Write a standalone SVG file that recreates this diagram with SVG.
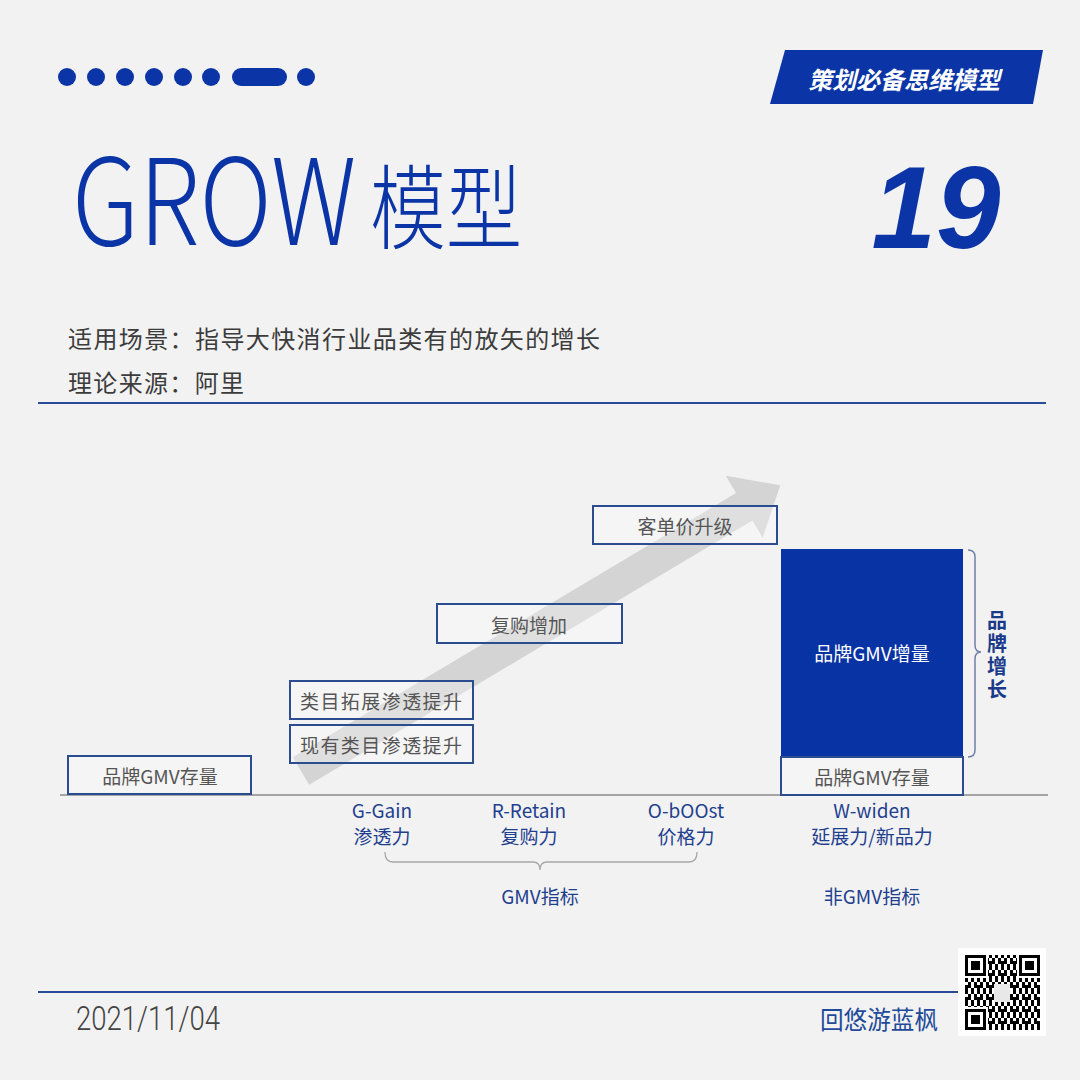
<svg xmlns="http://www.w3.org/2000/svg" width="1080" height="1080" viewBox="0 0 1080 1080">
<defs>
<style>
.cjk{font-family:"Noto Sans CJK SC","Noto Sans",sans-serif;}
.box{fill:#ffffff;fill-opacity:0.25;stroke:#2c4c90;stroke-width:2;}
.bt{font-family:"Noto Sans CJK SC","Noto Sans",sans-serif;font-size:19px;fill:#555;text-anchor:middle;dominant-baseline:central;}
.lab{font-family:"Noto Sans CJK SC","Noto Sans",sans-serif;font-size:19px;fill:#1f3f8f;text-anchor:middle;dominant-baseline:central;}
.blue{fill:#0b35a6;}
</style>
<pattern id="qr" patternUnits="userSpaceOnUse" x="965" y="955" width="12" height="12">
<rect x="0" y="0" width="3" height="3"/><rect x="6" y="0" width="3" height="3"/><rect x="3" y="3" width="3" height="3"/><rect x="9" y="3" width="3" height="6"/><rect x="0" y="6" width="6" height="3"/><rect x="6" y="9" width="3" height="3"/><rect x="0" y="9" width="3" height="3"/>
</pattern>
<g id="finder"><rect x="-2" y="-2" width="25" height="25" fill="#fff"/><rect width="21" height="21" fill="#000"/><rect x="3" y="3" width="15" height="15" fill="#fff"/><rect x="6" y="6" width="9" height="9" fill="#000"/></g>
</defs>
<rect width="1080" height="1080" fill="#f2f2f2"/>

<g id="header">
<g class="blue">
<circle cx="67" cy="77" r="9"/><circle cx="96" cy="77" r="9"/><circle cx="125" cy="77" r="9"/><circle cx="154" cy="77" r="9"/><circle cx="183" cy="77" r="9"/><circle cx="211" cy="77" r="9"/>
<rect x="232" y="68" width="55" height="18" rx="9"/>
<circle cx="306" cy="77" r="9"/>
</g>
<text class="cjk blue" font-size="120" font-weight="300" transform="translate(72,245) scale(0.83,1)">GROW</text>
<text class="cjk blue" x="370" y="242" font-size="92" font-weight="300" textLength="152" lengthAdjust="spacingAndGlyphs">模型</text>
<polygon class="blue" points="785,50 1043,50 1033,104 770,104"/>
<text class="cjk" x="904" y="78" font-size="24" font-weight="bold" font-style="italic" fill="#fff" text-anchor="middle" dominant-baseline="central">策划必备思维模型</text>
<text class="blue" x="936" y="248" font-family="Liberation Sans, Arial, sans-serif" font-size="116" font-weight="bold" font-style="italic" text-anchor="middle">19</text>
<text class="cjk" x="68" y="337" font-size="24" fill="#3c3c3c" dominant-baseline="central" textLength="532" lengthAdjust="spacing">适用场景：指导大快消行业品类有的放矢的增长</text>
<text class="cjk" x="68" y="381" font-size="24" fill="#3c3c3c" dominant-baseline="central" textLength="176" lengthAdjust="spacing">理论来源：阿里</text>
<line x1="38" y1="403" x2="1046" y2="403" stroke="#2a4a9a" stroke-width="2"/>
</g>

<g id="connectors">
<path d="M0,-16 L516,-16 L516,-36 L558,0 L516,36 L516,16 L0,16 Z" fill="#d4d4d4" transform="translate(301,771) rotate(-30.8)"/>
<line x1="60" y1="795" x2="1048" y2="795" stroke="#8a8a8a" stroke-width="1.5"/>
<path d="M385,852 Q385,862 393,862 L533,862 Q540,862 540,870 Q540,862 547,862 L689,862 Q697,862 697,852" fill="none" stroke="#a8a8a8" stroke-width="1.3"/>
<path d="M968,550 Q975,550 975,557 L975,645 Q975,652 981,652 Q975,652 975,659 L975,750 Q975,757 968,757" fill="none" stroke="#7080a8" stroke-width="1.5"/>
</g>

<g id="node-stock-left"><rect class="box" x="68" y="756" width="183" height="38"/><text class="bt" x="160" y="775">品牌GMV存量</text></g>
<g id="node-existing"><rect class="box" x="290" y="725" width="183" height="38"/><text class="bt" x="381" y="744" font-size="20" textLength="162" lengthAdjust="spacing">现有类目渗透提升</text></g>
<g id="node-expand"><rect class="box" x="290" y="681" width="183" height="38"/><text class="bt" x="381" y="700" font-size="20" textLength="162" lengthAdjust="spacing">类目拓展渗透提升</text></g>
<g id="node-repurchase"><rect class="box" x="437" y="604" width="185" height="39"/><text class="bt" x="529" y="624" font-size="20">复购增加</text></g>
<g id="node-price"><rect class="box" x="593" y="506" width="184" height="38"/><text class="bt" x="685" y="525" font-size="20">客单价升级</text></g>
<g id="node-increment"><rect x="781" y="549" width="182" height="208" fill="#0833a4"/><text class="bt" x="872" y="652" style="fill:#fff">品牌GMV增量</text></g>
<g id="node-stock-right"><rect class="box" x="781" y="757" width="182" height="38"/><text class="bt" x="872" y="776">品牌GMV存量</text></g>
<g id="label-growth"><text class="cjk" x="997" y="610" font-size="20" font-weight="bold" fill="#1a3a8a" writing-mode="vertical-rl" letter-spacing="3">品牌增长</text></g>

<g id="labels">
<text class="lab" x="382" y="809">G-Gain</text><text class="lab" x="382" y="835">渗透力</text>
<text class="lab" x="529" y="809">R-Retain</text><text class="lab" x="529" y="835">复购力</text>
<text class="lab" x="686" y="809">O-bOOst</text><text class="lab" x="686" y="835">价格力</text>
<text class="lab" x="872" y="809">W-widen</text><text class="lab" x="872" y="835">延展力/新品力</text>
<text class="lab" x="540" y="895">GMV指标</text>
<text class="lab" x="872" y="895">非GMV指标</text>
</g>

<g id="footer">
<line x1="38" y1="992" x2="976" y2="992" stroke="#2a4a9a" stroke-width="2"/>
<text x="76" y="1030" font-family="Roboto, sans-serif" font-weight="300" font-size="34" fill="#444" textLength="144" lengthAdjust="spacingAndGlyphs">2021/11/04</text>
<text class="cjk" x="820" y="1029" font-size="25" fill="#1f4a9a" textLength="118" lengthAdjust="spacingAndGlyphs">回悠游蓝枫</text>
<rect x="958" y="948" width="88" height="88" fill="#fff"/>
<rect x="965" y="955" width="75" height="75" fill="url(#qr)"/>
<rect x="994" y="984" width="16" height="18" fill="#e8e8e8"/>
<use href="#finder" x="965" y="955"/><use href="#finder" x="1019" y="955"/><use href="#finder" x="965" y="1009"/>
</g>
</svg>
